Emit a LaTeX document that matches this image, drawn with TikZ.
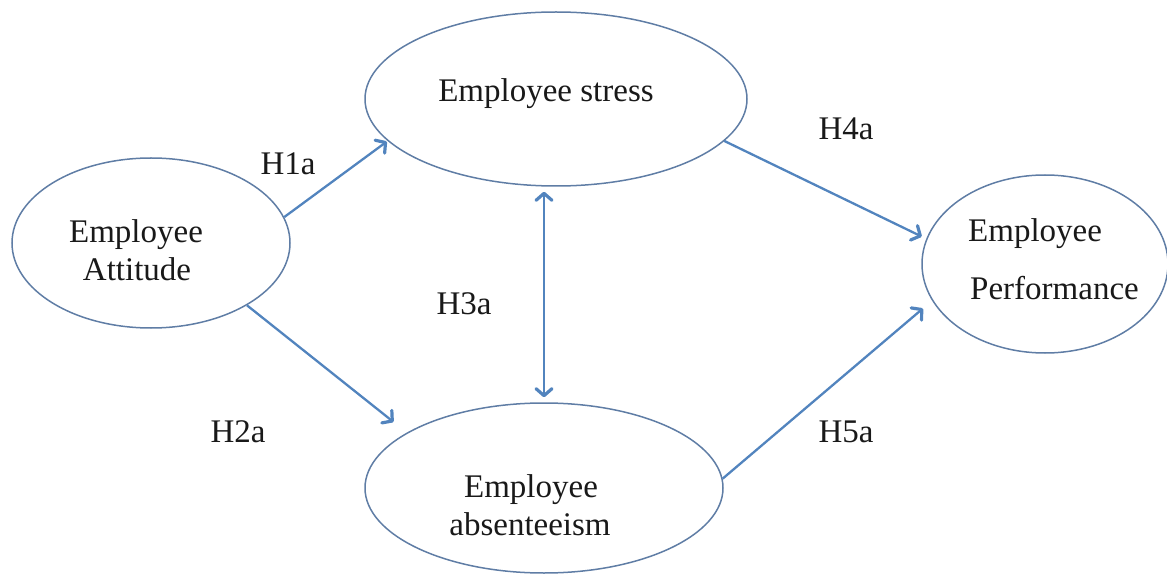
\documentclass[tikz,border=0pt]{standalone}
\usepackage{fontspec}
\setmainfont{Liberation Serif}
\usetikzlibrary{shapes.geometric,arrows.meta}
\definecolor{ellcol}{RGB}{95,125,165}
\definecolor{arrcol}{RGB}{82,132,190}
\tikzset{
  ell/.style={draw=ellcol, line width=1.5pt, shape=ellipse, inner sep=0pt},
  txt/.style={font=\fontsize{33}{37}\selectfont, inner sep=0pt, text=black!90, anchor=base},
  barb/.tip={Straight Barb[length=7pt,width=16pt,line width=3.2pt,round]},
  conn/.style={draw=arrcol, line width=2.3pt, -barb},
  biconn/.style={draw=arrcol, line width=2.3pt, barb-barb}
}
\begin{document}
\begin{tikzpicture}[x=1pt,y=-1pt]
\useasboundingbox (0,0) rectangle (1167,577);
% ellipses
\node[ell, minimum width=278pt, minimum height=170pt] (att) at (151,243) {};
\node[ell, minimum width=382pt, minimum height=174pt] (stress) at (556,99) {};
\node[ell, minimum width=358pt, minimum height=170pt] (absent) at (544,488) {};
\node[ell, minimum width=246pt, minimum height=178pt] (perf) at (1045,264) {};
% texts
\node[txt] (attA) at (136,243) {Employee};
\node[txt] (attB) at (137,280) {Attitude};
\node[txt] (stressA) at (546,102) {Employee stress};
\node[txt] (absA) at (531,497) {Employee};
\node[txt] (absB) at (530,535) {absenteeism};
\node[txt, anchor=base west] (perfA) at (968,242) {Employee};
\node[txt, anchor=base west] (perfB) at (970,300) {Performance};
% labels
\node[txt] (h1) at (288,175) {H1a};
\node[txt] (h2) at (238,442) {H2a};
\node[txt] (h3) at (464,315) {H3a};
\node[txt] (h4) at (846,140) {H4a};
\node[txt] (h5) at (846,442) {H5a};
% connectors
\draw[conn, shorten >=1pt] (att.11) -- (stress.194);
\draw[conn, shorten >=17pt] (att.-33) -- (absent.158);
\draw[biconn, shorten <=5pt, shorten >=5pt] (stress.south -| absent.north) -- (absent.north);
\draw[conn, shorten >=5pt] (stress.-14) -- (perf.168);
\draw[conn, shorten >=12pt] (absent.3.5) -- (perf.198);
\end{tikzpicture}
\end{document}
